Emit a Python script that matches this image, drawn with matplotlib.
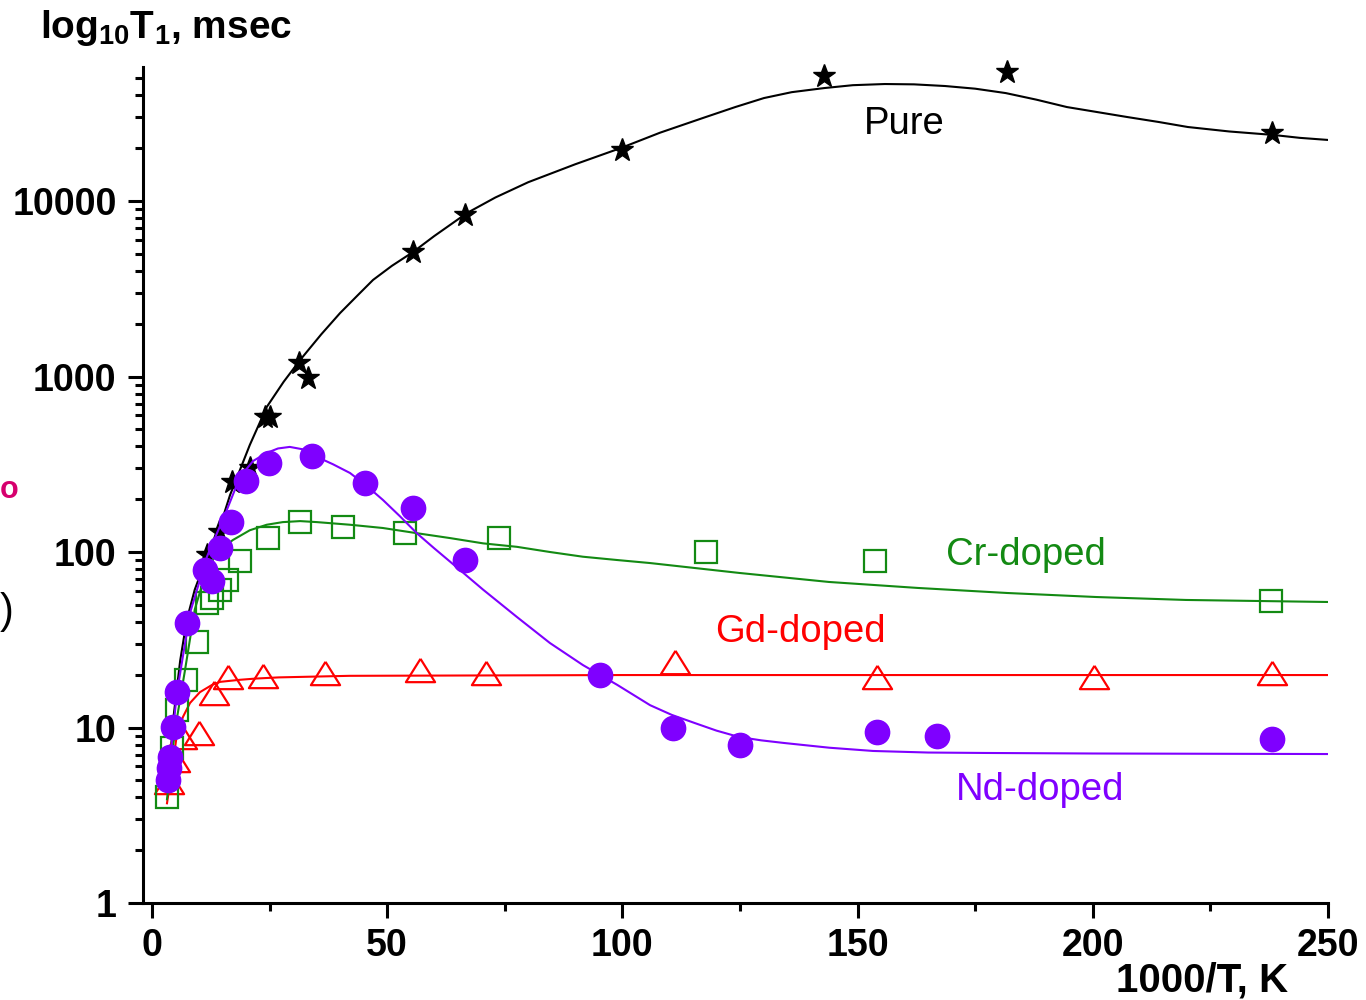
import matplotlib
matplotlib.use("Agg")
import matplotlib.pyplot as plt
from matplotlib.ticker import FixedLocator, NullFormatter, FixedFormatter

plt.rcParams['font.family'] = ['Liberation Sans', 'DejaVu Sans']
plt.rcParams['mathtext.fontset'] = 'custom'
plt.rcParams['mathtext.rm'] = 'Liberation Sans:bold'
plt.rcParams['mathtext.it'] = 'Liberation Sans:bold'
plt.rcParams['mathtext.bf'] = 'Liberation Sans:bold'
plt.rcParams['mathtext.default'] = 'rm'

# ---------------- data ----------------
# Pure: measured points
pure_x = [3.4, 11.7, 14.2, 17.0, 20.8, 24.0, 25.0, 31.2, 33.2, 55.5, 66.5, 99.9, 142.9, 181.8, 238.1]
pure_y = [5.5, 96, 130, 250, 301, 588, 588, 1194, 980, 5120, 8320, 19500, 51500, 54300, 24400]
# Pure: fitted curve
pure_fit_x = [3.4, 4.5, 6.0, 7.4, 9.1, 11.7, 14.2, 16.6, 18.7, 20.8, 24.4, 28.0, 31.5, 36.0,
              40.0, 44.0, 47.0, 51.0, 55.5, 60.0, 67.0, 73.0, 80.0, 90.0, 99.7, 108.0,
              117.1, 124.0, 130.1, 136.0, 142.9, 149.0, 155.8, 162.0, 168.6, 175.0, 181.5,
              188.0, 194.5, 201.0, 207.3, 214.0, 220.2, 229.0, 238.3, 244.0, 249.8]
pure_fit_y = [4.4, 11, 24, 41, 61, 94, 133, 211, 293, 407, 670, 933, 1242, 1740,
              2300, 2950, 3550, 4270, 5120, 6310, 8550, 10470, 12800, 16200, 20050, 24500,
              29700, 34300, 38600, 41700, 44000, 45700, 46400, 46200, 45200, 43650, 41200,
              37800, 34300, 32100, 30100, 28200, 26400, 24900, 23800, 22900, 22300]

# Cr-doped
cr_x = [3.2, 4.3, 5.3, 7.2, 9.6, 11.7, 12.8, 14.5, 15.9, 18.7, 24.7, 31.5, 40.6, 53.8, 73.8, 117.8, 153.7, 237.9]
cr_y = [4.0, 7.6, 12.6, 18.7, 30.7, 51, 55, 61, 69, 89, 120, 148, 139, 128, 120, 100, 89, 52.6]
cr_fit_x = [3.2, 4.9, 7.0, 9.1, 11.3, 13.4, 15.3, 17.2, 20.8, 24.4, 27.8, 31.5, 35.1, 42.1, 49.1, 56.3,
            63.4, 70.4, 77.6, 84.6, 91.6, 98.9, 105.9, 124.8, 143.9, 162.8, 181.8, 200.7, 219.8, 250]
cr_fit_y = [3.9, 9.7, 21, 47, 74, 96, 107, 117, 133, 143, 148, 150, 148, 143, 137, 128,
            120, 112, 107, 100, 94, 90, 86.5, 76, 67.5, 62.4, 58.4, 55.4, 53.3, 51.9]

# Gd-doped
gd_x = [3.6, 4.9, 6.4, 10.0, 13.1, 16.1, 23.6, 36.8, 57.0, 71.0, 111.2, 154.1, 200.3, 238.1]
gd_y = [4.9, 6.5, 8.8, 9.3, 15.8, 19.4, 19.7, 20.4, 21.3, 20.4, 23.6, 19.4, 19.4, 20.4]
gd_fit_x = [3.2, 4.25, 5.3, 6.6, 8.1, 10.2, 12.8, 14.5, 18.7, 22.0, 27.0, 42.0, 100.0, 250.0]
gd_fit_y = [3.7, 5.7, 9.1, 11.5, 13.8, 15.9, 17.5, 18.2, 18.7, 19.0, 19.3, 19.7, 19.9, 19.9]

# Nd-doped
nd_x = [3.4, 3.6, 3.8, 4.5, 5.3, 7.4, 11.3, 12.8, 14.5, 16.8, 20.0, 24.9, 34.0, 45.3, 55.5,
        66.5, 95.2, 110.8, 125.0, 154.1, 166.9, 238.1]
nd_y = [5.0, 5.9, 6.8, 10.1, 15.9, 39.4, 79, 68, 105, 148, 254, 321, 352, 247, 178,
        90, 19.9, 9.9, 7.9, 9.4, 8.95, 8.6]
nd_fit_x = [3.2, 5.3, 8.1, 11.7, 15.9, 18.7, 21.5, 24.4, 26.8, 29.3, 32.0, 35.1, 38.5, 42.1,
            45.5, 49.1, 52.7, 56.3, 60.0, 63.4, 70.4, 77.6, 84.6, 91.6, 98.9, 105.9, 110.5,
            115.4, 120.0, 124.8, 129.5, 134.4, 144.0, 153.3, 165.0, 177.1, 200.0, 250.0]
nd_fit_y = [4.4, 15.7, 45, 94, 173, 267, 330, 367, 389, 397, 385, 348, 316, 282,
            240, 198, 160, 128, 105, 88, 61, 42.6, 30.3, 22.7, 17.5, 13.4, 11.8,
            10.6, 9.6, 8.83, 8.45, 8.16, 7.67, 7.35, 7.2, 7.16, 7.11, 7.06]

x_ticks = [0, 50, 100, 150, 200, 250]
y_ticks = [1, 10, 100, 1000, 10000]
y_tick_labels = ['1', '10', '100', '1000', '10000']

labels = ['Pure', 'Cr-doped', 'Gd-doped', 'Nd-doped']
label_pos = [(159.9, 27500), (185.8, 96), (137.8, 35), (188.8, 4.4)]

# ---------------- styling ----------------
c_pure = 'black'
c_cr = '#138a13'
c_gd = '#ff0000'
c_nd = '#7f00ff'

fig = plt.figure(figsize=(13.66, 10), dpi=100)
ax = fig.add_axes([143/1366, 1 - 903/1000, (1328 - 143)/1366, (903 - 67)/1000])

lw = 1.5
tri = [(0, 0.8), (-1, -0.8), (1, -0.8), (0, 0.8)]

ax.plot(pure_fit_x, pure_fit_y, color=c_pure, lw=lw, zorder=2)
ax.plot(pure_x, pure_y, ls='none', marker='*', ms=17, color=c_pure, zorder=3, clip_on=False)

ax.plot(gd_fit_x, gd_fit_y, color=c_gd, lw=lw, zorder=4)
ax.plot(gd_x, gd_y, ls='none', marker=tri, ms=21, mfc='none', mec=c_gd, mew=1.6, zorder=5)

ax.plot(cr_fit_x, cr_fit_y, color=c_cr, lw=lw, zorder=6)
ax.plot(cr_x, cr_y, ls='none', marker='s', ms=15.5, mfc='none', mec=c_cr, mew=1.6, zorder=7)

ax.plot(nd_fit_x, nd_fit_y, color=c_nd, lw=lw, zorder=8)
ax.plot(nd_x, nd_y, ls='none', marker='o', ms=17.5, color=c_nd, mec=c_nd, zorder=9)

colors = [c_pure, c_cr, c_gd, c_nd]
for lab, (lx, ly), col in zip(labels, label_pos, colors):
    ax.text(lx, ly, lab, color=col, fontsize=27.5, ha='center', va='center', zorder=10)

ax.set_yscale('log')
ax.set_xlim(-1.9, 250)
ax.set_ylim(1, 10 ** ((903 - 67) / 175.5))

ax.xaxis.set_major_locator(FixedLocator(x_ticks))
ax.xaxis.set_minor_locator(FixedLocator([25, 75, 125, 175, 225]))
ax.yaxis.set_major_locator(FixedLocator(y_ticks))
ax.yaxis.set_major_formatter(FixedFormatter(y_tick_labels))
ax.yaxis.set_minor_locator(FixedLocator([m * 10 ** d for d in range(0, 5) for m in range(2, 10)]))
ax.yaxis.set_minor_formatter(NullFormatter())

for side in ['top', 'right']:
    ax.spines[side].set_visible(False)
for side in ['left', 'bottom']:
    ax.spines[side].set_linewidth(2.2)

ax.tick_params(axis='both', which='major', direction='out', length=11, width=2.2,
               labelsize=27, pad=7)
ax.tick_params(axis='both', which='minor', direction='out', length=5.5, width=2.2)
ax.tick_params(axis='y', which='major', pad=8)
for t in ax.get_xticklabels() + ax.get_yticklabels():
    t.set_fontweight('bold')

fig.text(40/1366, 1 - 28/1000, r'log$_{10}$T$_1$, msec', fontsize=28, fontweight='bold',
         ha='left', va='center')
fig.text(1288/1366, 1 - 980/1000, '1000/T, K', fontsize=29, fontweight='bold',
         ha='right', va='center')

# marks at the left edge of the original picture
fig.text(0.0, 1 - 490/1000, 'o', color='#d6006e', fontsize=22, fontweight='bold',
         ha='left', va='center')
fig.text(0.0, 1 - 612/1000, ')', color='black', fontsize=30, ha='left', va='center')

fig.savefig('out.png', dpi=100)
